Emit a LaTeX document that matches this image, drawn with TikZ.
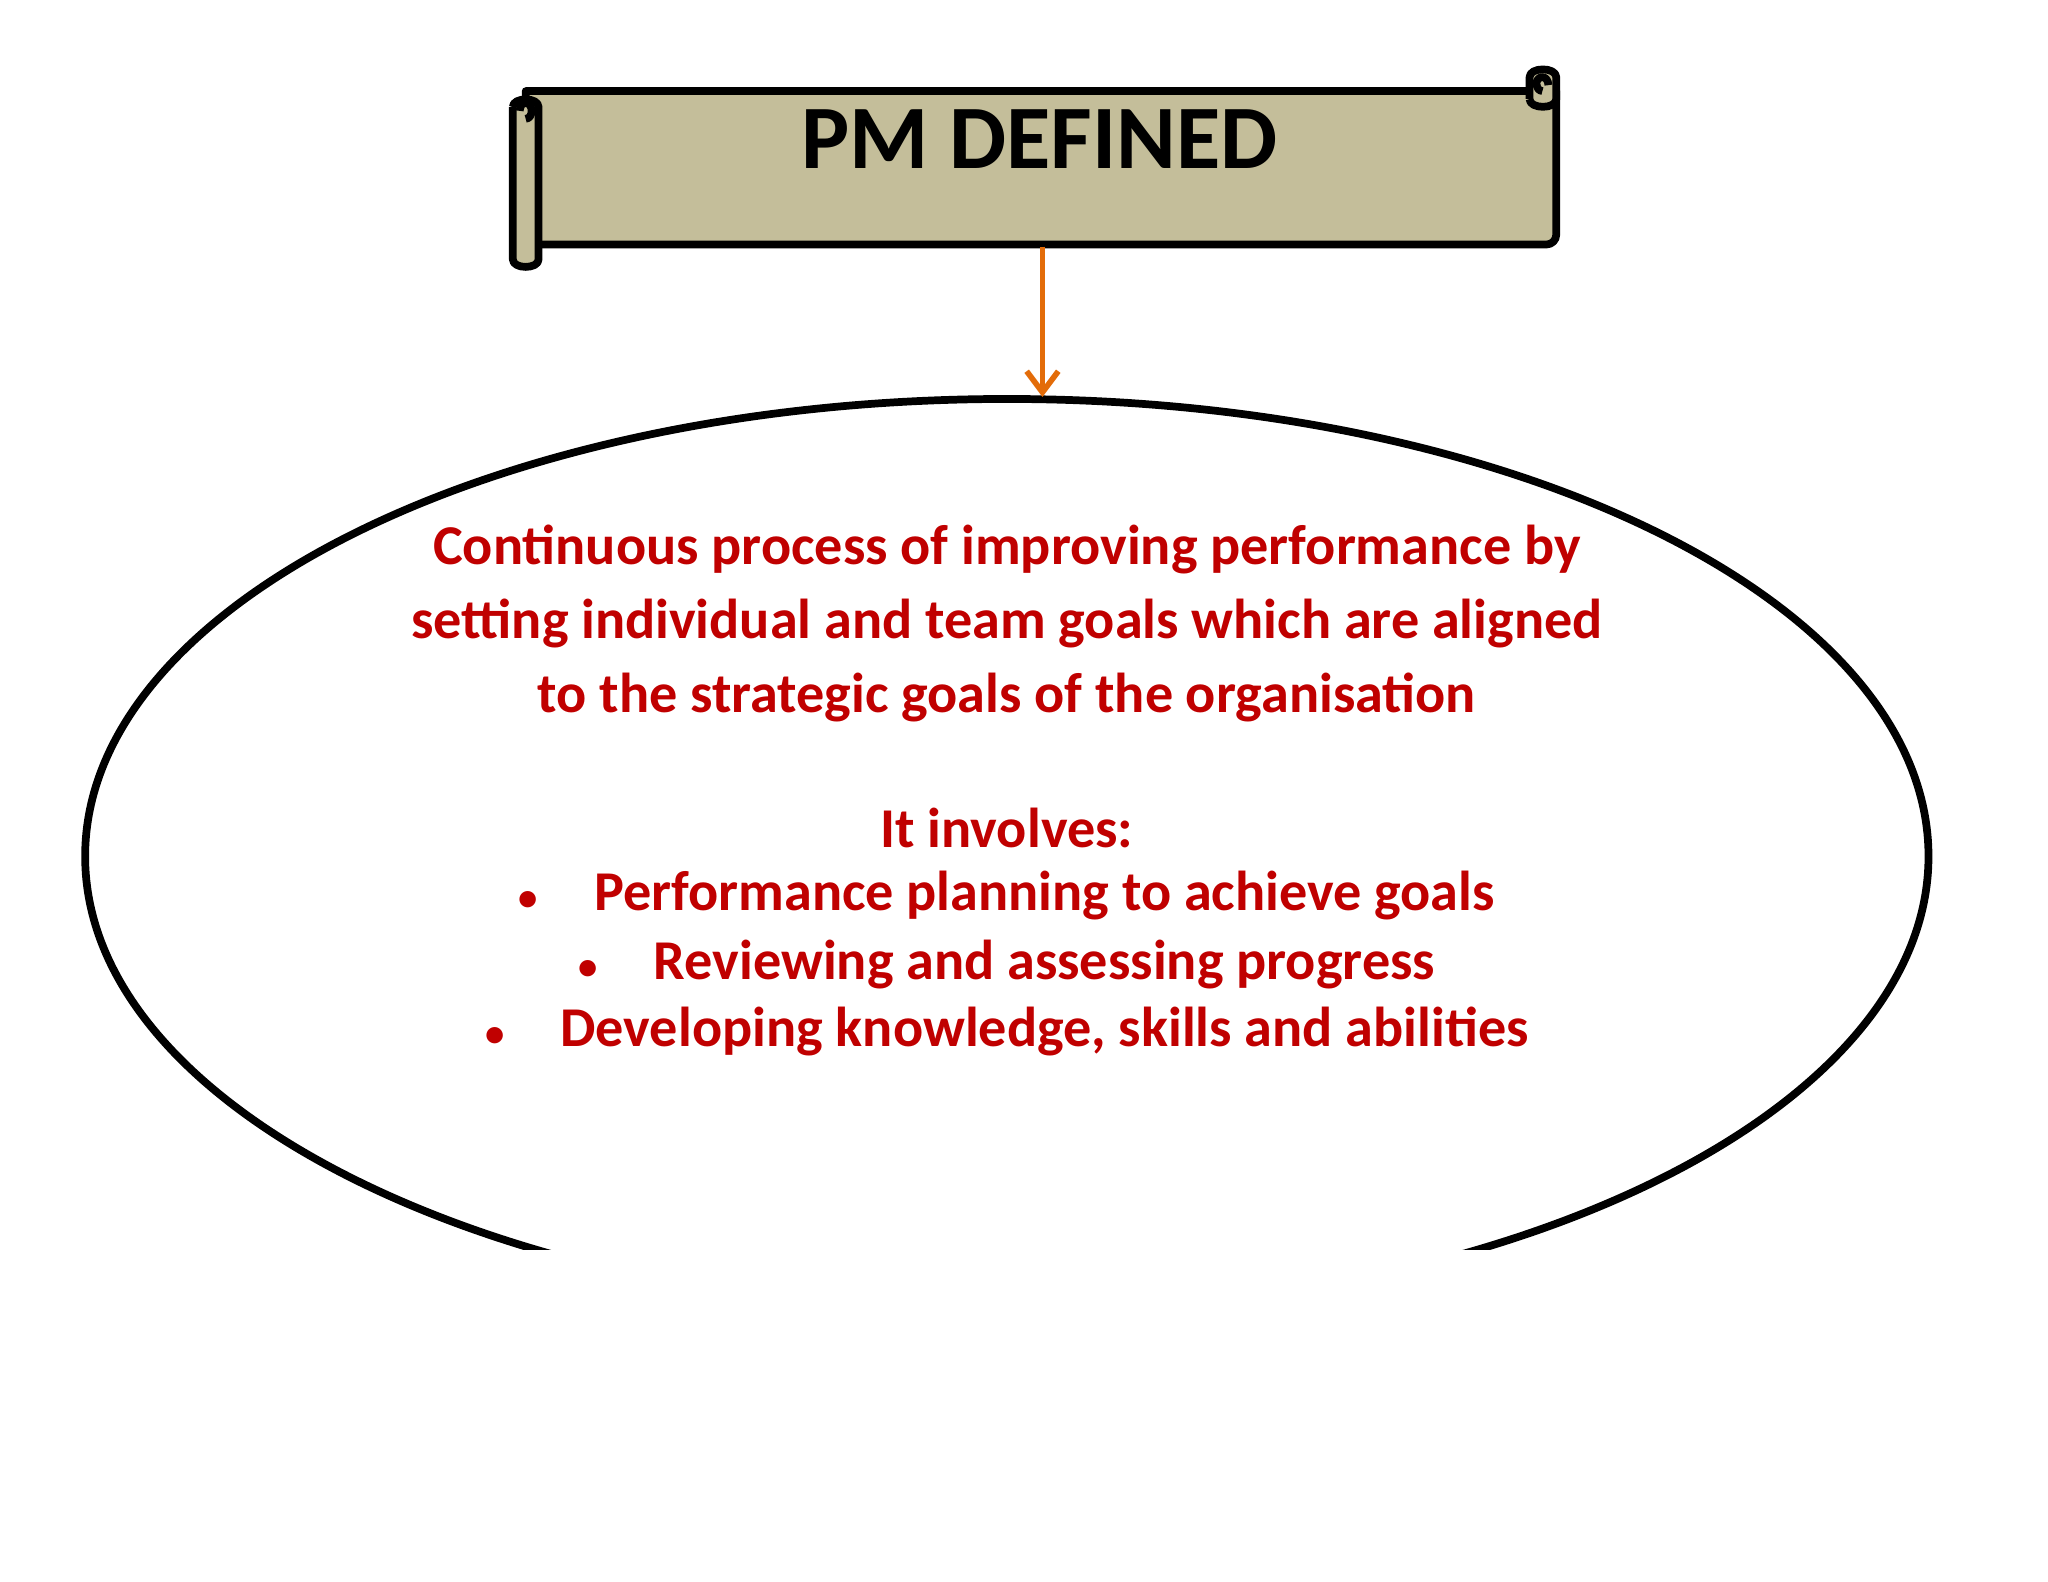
\documentclass[tikz,border=0pt]{standalone}
\usepackage{fontspec}
\setmainfont{Carlito}
\usetikzlibrary{arrows.meta}
\definecolor{scrollfill}{HTML}{C4BE9A}
\definecolor{arroworange}{HTML}{E36C09}
\definecolor{textred}{HTML}{C00000}
\newcommand{\mybul}{{\fontsize{11}{11}\selectfont •}\hspace{16pt}}
\begin{document}
\begin{tikzpicture}[x=0.0099cm,y=-0.0099cm,
  outl/.style={draw=black,line width=2.2pt,line join=round},
  redtext/.style={text=textred,font=\fontsize{16}{21}\selectfont\bfseries,align=center}]
\useasboundingbox (0,0) rectangle (2068.7,1598);
% scroll main body
\draw[outl,fill=scrollfill] (531,92) -- (1560,92) -- (1572,92) -- (1572,237)
  to[out=-90,in=0] (1562,247) -- (531,247) -- cycle;
% right curl
\draw[outl,fill=scrollfill] (1545,100) -- (1545,78) to[out=90,in=90] (1572,78) -- (1572,100) to[out=-90,in=-90] (1545,100);
\draw[outl] (1558,92) to[out=180,in=-90] (1552,84) to[out=90,in=180] (1558,78) to[out=0,in=90] (1564,86);
% left roll
\draw[outl,fill=scrollfill] (518,108) -- (518,262) to[out=-90,in=-90] (544,262) -- (544,108) to[out=90,in=90] (518,108);
\draw[outl] (531,120) to[out=0,in=-90] (537,112) to[out=90,in=0] (531,104) to[out=180,in=90] (525,112);
\node[font=\fontsize{25.8}{30}\selectfont\bfseries] (title) at (1050,141) {PM DEFINED};
\coordinate (scrollbot) at (1053,249);
% ellipse clipped
\begin{scope}
\clip (0,0) rectangle (2068,1262);
\draw[line width=2.2pt] (1017,865) ellipse[x radius=931,y radius=462];
\end{scope}
\coordinate (elltop) at (1053,401);
\draw[arroworange,line width=1.6pt,-{Straight Barb[length=6pt,width=9pt]}] (scrollbot) -- (elltop);
\node[redtext] (def) at (1017,630) {Continuous process of improving performance by\\setting individual and team goals which are aligned\\to the strategic goals of the organisation};
\node[redtext] (inv) at (1017,836) {It involves:};
\node[redtext] (b1) at (1017,905) {\mybul Performance planning to achieve goals};
\node[redtext] (b2) at (1017,974) {\mybul Reviewing and assessing progress};
\node[redtext] (b3) at (1017,1042) {\mybul Developing knowledge, skills and abilities};
\end{tikzpicture}
\end{document}
